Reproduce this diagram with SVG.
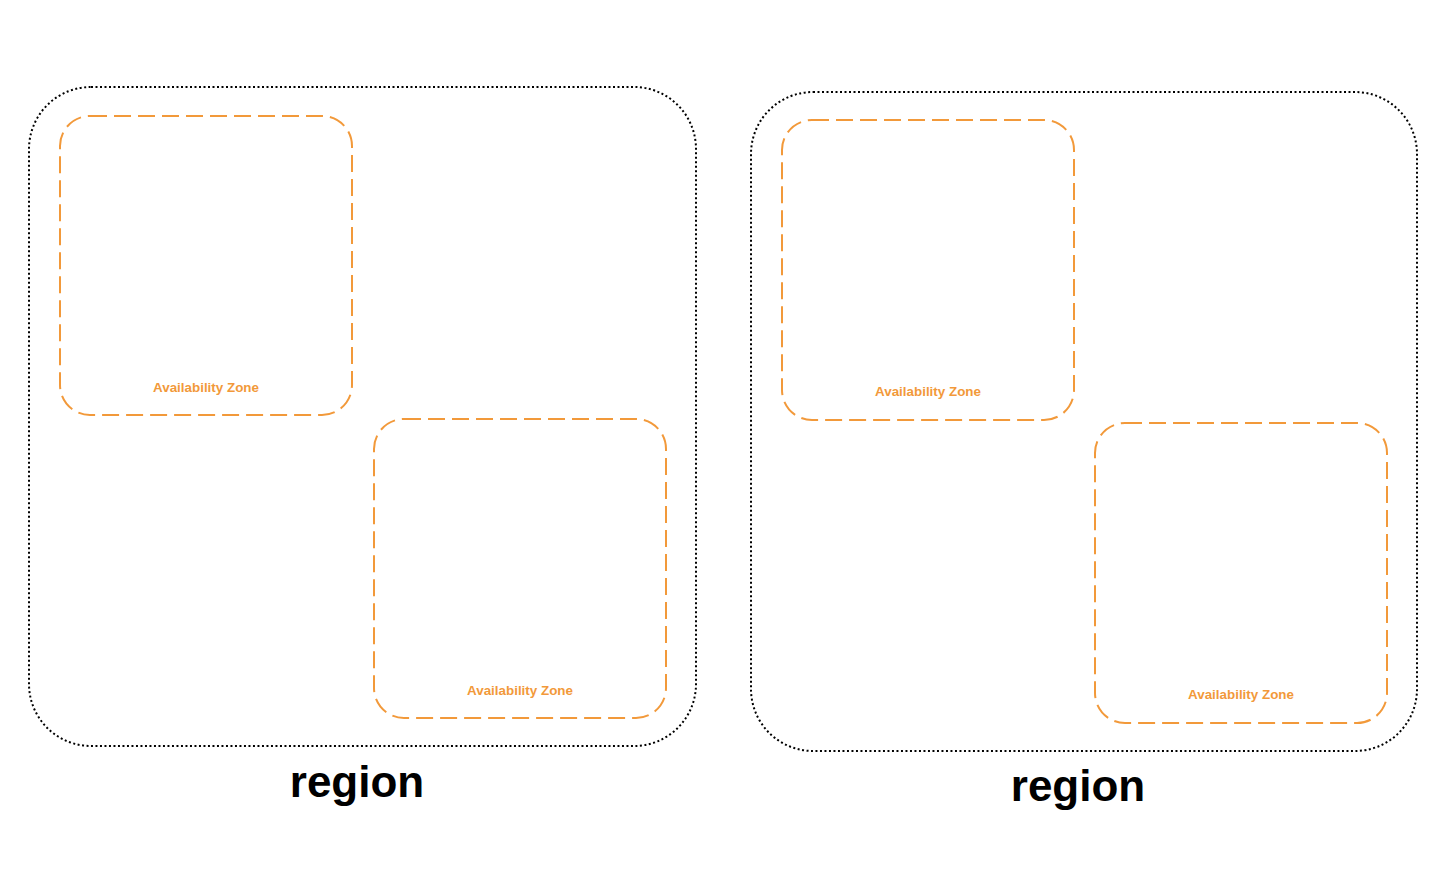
<svg xmlns="http://www.w3.org/2000/svg" width="1450" height="880" viewBox="0 0 1450 880">
<style>
.region{fill:none;stroke:#000;stroke-width:2;stroke-dasharray:2 2.5}
.az{fill:none;stroke:#F2993A;stroke-width:2;stroke-dasharray:17 7}
.azl{font-family:"Liberation Sans",Arial,sans-serif;font-size:13.4px;font-weight:bold;fill:#F2993A;text-anchor:middle}
.rl{font-family:"Liberation Sans",Arial,sans-serif;font-size:44px;font-weight:bold;fill:#000;text-anchor:middle}
</style>
<rect width="1450" height="880" fill="#fff"/>
<g id="region1">
<rect class="region" x="29" y="87" width="667" height="659" rx="62"/>
<text class="rl" x="357" y="797">region</text>
</g>
<g id="az1">
<rect class="az" x="60" y="116" width="292" height="299" rx="30"/>
<text class="azl" x="206" y="392">Availability Zone</text>
</g>
<g id="az2">
<rect class="az" x="374" y="419" width="292" height="299" rx="30"/>
<text class="azl" x="520" y="695">Availability Zone</text>
</g>
<g id="region2">
<rect class="region" x="751" y="92" width="666" height="659" rx="62"/>
<text class="rl" x="1078" y="801">region</text>
</g>
<g id="az3">
<rect class="az" x="782" y="120" width="292" height="300" rx="30"/>
<text class="azl" x="928" y="396">Availability Zone</text>
</g>
<g id="az4">
<rect class="az" x="1095" y="423" width="292" height="300" rx="30"/>
<text class="azl" x="1241" y="699">Availability Zone</text>
</g>
<g id="connectors"></g>
</svg>
